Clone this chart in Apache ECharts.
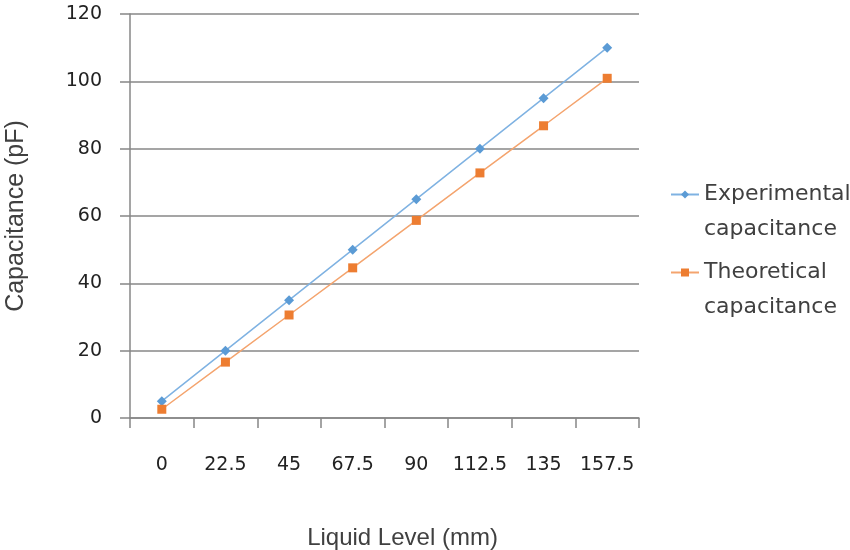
<!DOCTYPE html>
<html>
<head>
<meta charset="utf-8">
<script src="https://cdn.jsdelivr.net/npm/echarts@6/dist/echarts.min.js"></script>
<style>
  html, body { margin: 0; padding: 0; background: #fff; }
  #chart { width: 850px; height: 550px; }
</style>
</head>
<body>
<div id="chart"></div>
<script>
var levels = ['0', '22.5', '45', '67.5', '90', '112.5', '135', '157.5'];
var experimental = [5, 20, 35, 50, 65, 80, 95, 110];
var theoretical = [2.6, 16.6, 30.6, 44.6, 58.7, 72.8, 86.8, 100.9];

var axisGray = '#878787';
var textColor = '#404040';

var chart = echarts.init(document.getElementById('chart'));
chart.setOption({
    animation: false,
    textStyle: { fontFamily: 'DejaVu Sans' },
    grid: { left: 130, right: 211, top: 14, bottom: 132, outerBoundsMode: 'none', containLabel: false },
    legend: {
        orient: 'vertical',
        left: 665,
        top: 137,
        itemWidth: 28,
        itemHeight: 10,
        itemGap: -27,
        // blank first line keeps the icon level with the first text line
        formatter: function (name) {
            return ' \n' + name.replace(' ', '\n');
        },
        textStyle: {
            fontFamily: 'DejaVu Sans', fontSize: 22, color: textColor, lineHeight: 35
        },
        data: ['Experimental capacitance', 'Theoretical capacitance']
    },
    xAxis: {
        type: 'category',
        data: levels,
        boundaryGap: true,
        name: 'Liquid Level (mm)',
        nameLocation: 'middle',
        nameGap: 108,
        nameTextStyle: {
            fontFamily: 'Liberation Sans', fontSize: 24, color: textColor,
            padding: [0, 0, 0, 36]
        },
        axisLine: { lineStyle: { color: axisGray, width: 1.5 } },
        axisTick: { show: true, interval: 0, length: 10, lineStyle: { color: axisGray, width: 1.5 } },
        axisLabel: { interval: 0, fontSize: 19, color: '#222', margin: 38 }
    },
    yAxis: {
        type: 'value',
        min: 0,
        max: 120,
        interval: 20,
        name: 'Capacitance (pF)',
        nameLocation: 'middle',
        nameGap: 101,
        nameTextStyle: { fontFamily: 'Liberation Sans', fontSize: 25, color: textColor },
        axisLine: { show: true, lineStyle: { color: axisGray, width: 1.5 } },
        axisTick: { show: true, length: 10, lineStyle: { color: axisGray, width: 1.5 } },
        axisLabel: { fontSize: 19, color: '#222', margin: 28 },
        splitLine: { lineStyle: { color: axisGray, width: 1.5 } }
    },
    series: [
        {
            name: 'Experimental capacitance',
            type: 'line',
            data: experimental,
            symbol: 'diamond',
            symbolSize: 10,
            color: '#5B9BD5',
            lineStyle: { width: 1.5, color: '#7FB2E2' },
            itemStyle: { color: '#5B9BD5' }
        },
        {
            name: 'Theoretical capacitance',
            type: 'line',
            data: theoretical,
            symbol: 'rect',
            symbolSize: 9,
            color: '#ED7D31',
            lineStyle: { width: 1.5, color: '#F4A46E' },
            itemStyle: { color: '#ED7D31' }
        }
    ]
});
</script>
</body>
</html>
